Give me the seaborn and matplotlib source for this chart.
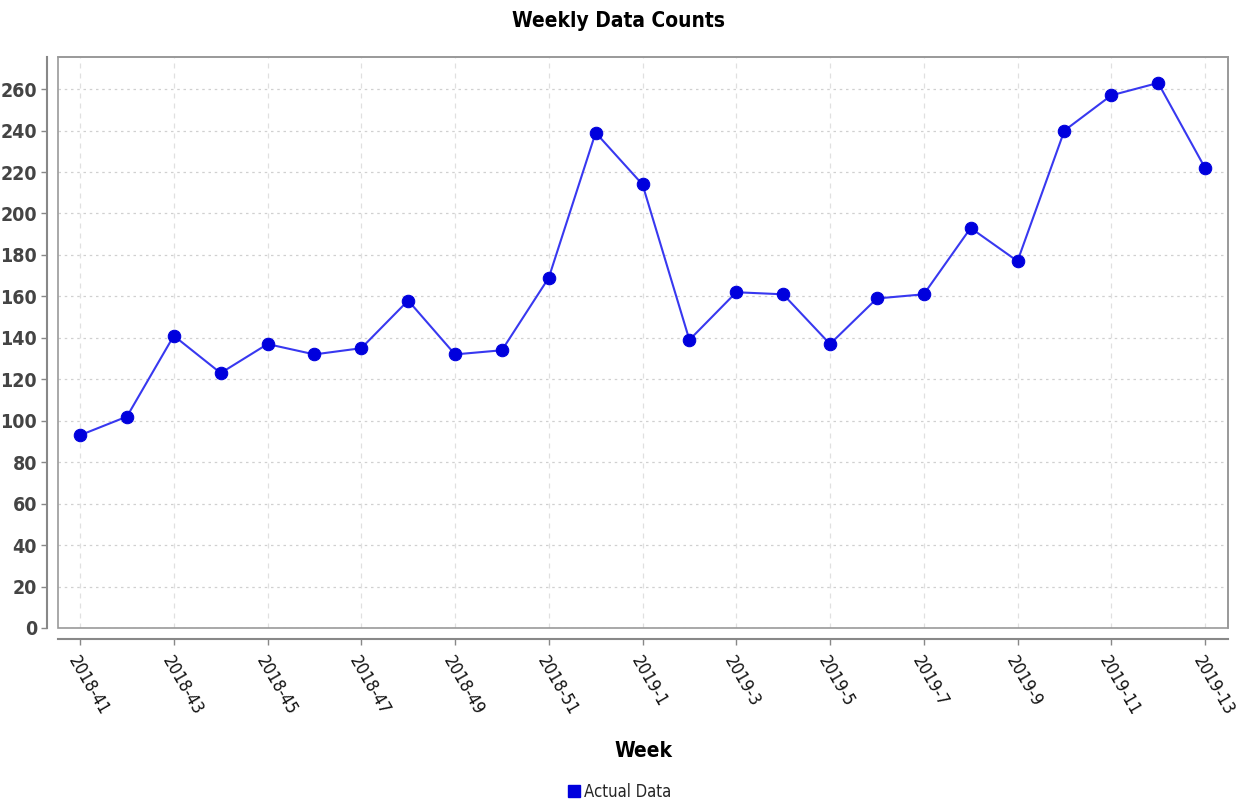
import matplotlib
matplotlib.use("Agg")
import matplotlib.pyplot as plt
import seaborn as sns
import pandas as pd
from matplotlib.lines import Line2D
from matplotlib.patches import Rectangle

# ---------------------------------------------------------
# Data
# ---------------------------------------------------------
weeks = ["2018-41", "2018-42", "2018-43", "2018-44", "2018-45", "2018-46", "2018-47",
         "2018-48", "2018-49", "2018-50", "2018-51", "2018-52", "2019-1", "2019-2",
         "2019-3", "2019-4", "2019-5", "2019-6", "2019-7", "2019-8", "2019-9",
         "2019-10", "2019-11", "2019-12", "2019-13"]
counts = [93, 102, 141, 123, 137, 132, 135, 158, 132, 134, 169, 239, 214, 139,
          162, 161, 137, 159, 161, 193, 177, 240, 257, 263, 222]
y_ticks = list(range(0, 261, 20))

df = pd.DataFrame({"Week": weeks, "Count": counts})

sns.set_theme(style="white")
plt.rcParams['font.family'] = ['Liberation Sans Narrow', 'DejaVu Sans']
plt.rcParams['font.stretch'] = 'condensed'

fig = plt.figure(figsize=(12.37, 8.02), dpi=100)
ax = fig.add_axes([0.0469, 0.2170, 0.9458, 0.7119])

line_color = "#0000DD"
sns.lineplot(data=df, x="Week", y="Count", sort=False, ax=ax, color="#3838F0",
             linewidth=1.5, marker="o", markersize=9, markerfacecolor=line_color,
             markeredgecolor=line_color)

ax.set_xlim(-0.47, len(weeks) - 1 + 0.49)
ax.set_ylim(0, 275.5)

ax.yaxis.grid(True, linestyle=(0, (2, 3)), color="#d0d0d0", linewidth=0.9)
ax.xaxis.grid(True, linestyle=(0, (4, 4)), color="#e0e0e0", linewidth=0.9)

for side in ["left", "bottom"]:
    ax.spines[side].set_position(("outward", 8))
    ax.spines[side].set_color("#888888")
    ax.spines[side].set_linewidth(1.5)
for side in ["top", "right"]:
    ax.spines[side].set_color("#999999")
    ax.spines[side].set_linewidth(1.2)
ax.add_patch(Rectangle((0, 0), 1, 1, transform=ax.transAxes, fill=False,
                       edgecolor="#999999", linewidth=1.2, clip_on=False))

ax.tick_params(axis="both", which="major", length=4, width=1, color="#888888",
               bottom=True, left=True, pad=3)
ax.tick_params(axis="x", pad=6)

# tick labels last, so later tick_params calls do not reset them
ax.set_yticks(y_ticks)
ax.set_xticks(list(range(0, len(weeks), 2)))
ax.set_yticklabels([str(v) for v in y_ticks])
ax.set_xticklabels(weeks[::2])
plt.setp(ax.get_yticklabels(), fontsize=14, fontweight="bold", color="#444444")
plt.setp(ax.get_xticklabels(), rotation=-60, ha="left", va="top",
         rotation_mode="anchor", fontsize=12.5, color="#111111")

ax.set_xlabel("Week", fontsize=15, fontweight="bold", labelpad=16, color="black")
ax.set_ylabel("")
fig.suptitle("Weekly Data Counts", fontsize=15, fontweight="bold", y=0.986,
             color="black")

handle = Line2D([], [], linestyle="none", marker="s", markersize=9,
                markerfacecolor=line_color, markeredgecolor=line_color)
fig.legend([handle], ["Actual Data"], loc="center", bbox_to_anchor=(0.5, 0.013),
           frameon=False, fontsize=12, handletextpad=0.1, handlelength=1)

fig.savefig("out.png", dpi=100)
